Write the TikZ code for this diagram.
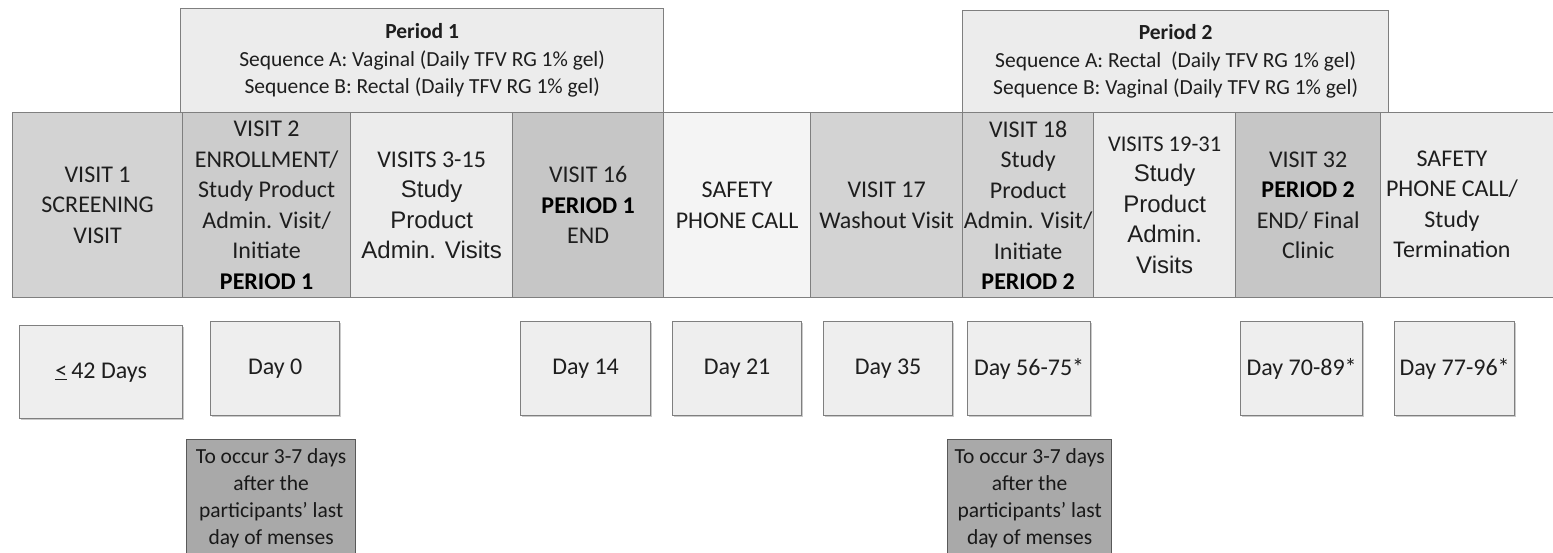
\documentclass[tikz,border=0pt]{standalone}
\usepackage{fontspec}
\setmainfont{Carlito}
\newfontfamily\arialf{Liberation Sans}
\newcommand\arlin{\arialf\fontsize{24}{30}\selectfont}
\usetikzlibrary{shadows}
\definecolor{bordc}{HTML}{7F7F7F}
\definecolor{txtc}{HTML}{1E1E1E}
\definecolor{lightc}{HTML}{ECECEC}
\definecolor{midc}{HTML}{D3D3D3}
\definecolor{darkc}{HTML}{C6C6C6}
\definecolor{notec}{HTML}{A9A9A9}
\definecolor{dayc}{HTML}{EEEEEE}
\tikzset{
  box/.style={draw=bordc, line width=1.3pt, inner sep=0pt, align=center, anchor=north west, text=txtc},
  mainbox/.style={box, minimum height=185pt, font=\fontsize{24}{30.5}\selectfont},
  perbox/.style={box, fill=lightc, font=\fontsize{21.5}{27.5}\selectfont},
  daybox/.style={box, fill=dayc, minimum height=94pt, font=\fontsize{24}{28}\selectfont,
     drop shadow={shadow xshift=1.5pt, shadow yshift=-1.5pt, opacity=0.35, fill=black!60}},
  notebox/.style={box, fill=notec, draw=black!65, minimum height=117pt, font=\fontsize{21.5}{27}\selectfont, text=black!90},
}
\begin{document}
\begin{tikzpicture}[x=1pt,y=-1pt]
\useasboundingbox (0,0) rectangle (1553,552);
\clip (0,0) rectangle (1553,552);
% period headers
\node[perbox, minimum width=483pt, minimum height=104pt] (p1) at (180,8)
  {\textbf{Period 1}\\Sequence A: Vaginal (Daily TFV RG 1\% gel)\\Sequence B: Rectal (Daily TFV RG 1\% gel)};
\node[perbox, minimum width=426pt, minimum height=102pt] (p2) at (962,10)
  {\textbf{Period 2}\\Sequence A: Rectal\ \ (Daily TFV RG 1\% gel)\\Sequence B: Vaginal (Daily TFV RG 1\% gel)};
% main row
\node[mainbox, fill=midc, minimum width=170pt] (v1) at (12,112) {VISIT 1\\SCREENING\\VISIT};
\node[mainbox, fill=darkc!85!lightc, minimum width=168pt] (v2) at (182,112)
  {VISIT 2\\ENROLLMENT/\\Study Product\\Admin. Visit/\\Initiate\\\textcolor{black}{\textbf{PERIOD 1}}};
\node[mainbox, fill=lightc, minimum width=162pt] (v3) at (350,112)
  {VISITS 3-15\\\arlin Study\\\arlin Product\\\arlin Admin. Visits};
\node[mainbox, fill=darkc, minimum width=151pt] (v16) at (512,112)
  {VISIT 16\\\textcolor{black}{\textbf{PERIOD 1}}\\END};
\node[mainbox, fill=lightc!60!white, minimum width=147pt] (sp1) at (663,112)
  {SAFETY\\PHONE CALL};
\node[mainbox, fill=midc, minimum width=152pt] (v17) at (810,112)
  {VISIT 17\\Washout Visit};
\node[mainbox, fill=midc, minimum width=131pt] (v18) at (962,112)
  {VISIT 18\\Study\\Product\\Admin. Visit/\\Initiate\\\textcolor{black}{\textbf{PERIOD 2}}};
\node[mainbox, fill=lightc, minimum width=142pt] (v19) at (1093,112)
  {{\fontsize{22.5}{30}\selectfont VISITS 19-31}\\\arlin Study\\\arlin Product\\\arlin Admin.\\\arlin Visits};
\node[mainbox, fill=darkc, minimum width=145pt] (v32) at (1235,112)
  {VISIT 32\\\textcolor{black}{\textbf{PERIOD 2}}\\END/ Final\\Clinic};
\node[mainbox, fill=lightc, minimum width=190pt] (sp2) at (1380,112) {};
\node[align=center, text=txtc, font=\fontsize{24}{30.5}\selectfont] (sp2t) at (1452,204.5)
  {SAFETY\\PHONE CALL/\\Study\\Termination};
% day boxes
\node[daybox, minimum width=163pt, minimum height=93pt] (d42) at (19,325) {\underline{<}\,42 Days};
\node[daybox, minimum width=129pt] (d0) at (210,321) {Day 0};
\node[daybox, minimum width=130pt] (d14) at (520,321) {Day 14};
\node[daybox, minimum width=129pt] (d21) at (672,321) {Day 21};
\node[daybox, minimum width=129pt] (d35) at (823,321) {Day 35};
\node[daybox, minimum width=123pt] (d56) at (967,321) {Day 56-75*};
\node[daybox, minimum width=122pt] (d70) at (1240,321) {Day 70-89*};
\node[daybox, minimum width=120pt] (d77) at (1394,321) {Day 77-96*};
% notes
\node[notebox, minimum width=169pt] (n1) at (186,439)
  {To occur 3-7 days\\after the\\participants' last\\day of menses};
\node[notebox, minimum width=164pt] (n2) at (947,439)
  {To occur 3-7 days\\after the\\participants' last\\day of menses};
\end{tikzpicture}
\end{document}
